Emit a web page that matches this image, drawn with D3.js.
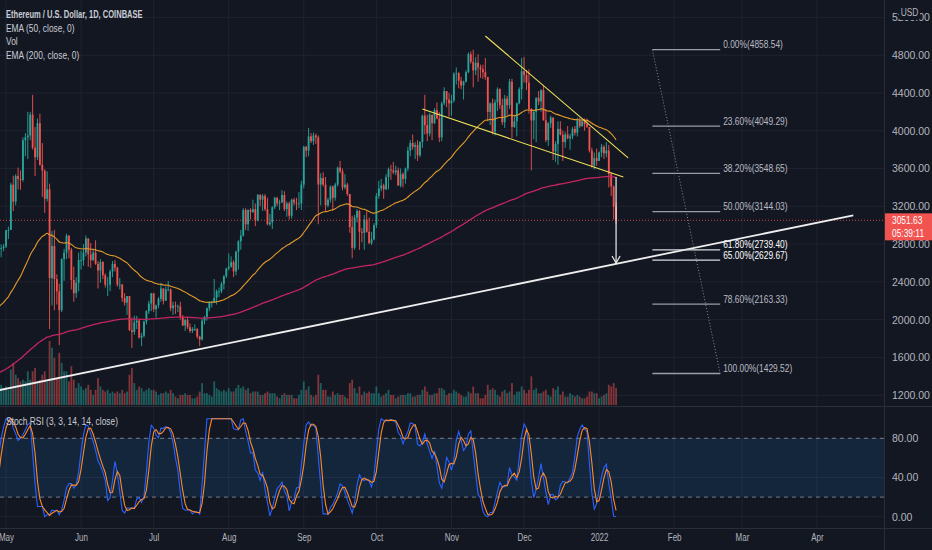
<!DOCTYPE html>
<html>
<head>
<meta charset="utf-8">
<script src="https://cdn.jsdelivr.net/npm/d3@7"></script>
<style>
	html, body { margin: 0; padding: 0; background: #131722; }
	svg { display: block; font-family: "Liberation Sans", Arial, sans-serif; }
</style>
</head>
<body>
<svg id="svgChart" width="932" height="550"></svg>
<script>
// closes before the first visible bar, only used to warm up the Stoch RSI (15 Mar - 27 Apr 2021)
const warmupClose = [
	1790, 1806, 1823, 1780, 1810, 1806, 1782, 1680, 1670, 1585, 1588, 1700, 1715, 1691, 1818, 1846, 1919,
	1969, 2136, 2029, 2087, 2111, 2114, 1964, 2082, 2071, 2137, 2156, 2139, 2301, 2433, 2516, 2424, 2357,
	2234, 2164, 2328, 2361, 2402, 2364, 2210, 2315, 2535, 2662
];

// daily bars from 28 Apr 2021 to 8 Jan 2022 (open = previous close)
const firstDay = "2021-04-28";
const closes = [
	2750, 2757, 2773,
	2945, 2950, 3430, 3250, 3520, 3490, 3480, 3900, 3930, 3950, 4170, 3820, 3720, 4080, 3640, 3580, 3280, 3380, 2440, 2780,
	2430, 2300, 2100, 2640, 2710, 2890, 2740, 2420, 2280, 2390, 2630,
	2630, 2710, 2860, 2690, 2630, 2710, 2590, 2520, 2610, 2470, 2370, 2370, 2510, 2590, 2550, 2370, 2370, 2230, 2180, 2250,
	1890, 1870, 1970, 1990, 1810, 1830, 1980, 2090, 2170, 2280,
	2110, 2150, 2220, 2330, 2200, 2320, 2320, 2120, 2150, 2140, 2140, 2030, 1940, 1995, 1920, 1880, 1900, 1900, 1820, 1790,
	1990, 2030, 2120, 2190, 2190, 2230, 2300, 2300, 2380, 2460, 2540,
	2560, 2610, 2510, 2720, 2830, 2890, 3160, 3010, 3160, 3140, 3170, 3050, 3320, 3270, 3310, 3170, 3010, 3030, 3190, 3290,
	3230, 3240, 3320, 3170, 3230, 3100, 3270, 3240, 3230, 3230, 3430,
	3830, 3790, 3940, 3890, 3950, 3930, 3430, 3500, 3430, 3210, 3270, 3410, 3290, 3430, 3610, 3570, 3400, 3430, 3330, 2980,
	2760, 3080, 3150, 2930, 2920, 3060, 2930, 2810, 2850, 3000,
	3310, 3390, 3420, 3380, 3510, 3590, 3580, 3560, 3580, 3420, 3540, 3490, 3600, 3790, 3870, 3830, 3850, 3740, 3880, 4160,
	4060, 3970, 4170, 4080, 4220, 4130, 3930, 4290, 4420, 4330, 4290,
	4320, 4600, 4610, 4530, 4480, 4520, 4620, 4810, 4730, 4640, 4720, 4670, 4650, 4620, 4570, 4200, 4290, 3990, 4300, 4440,
	4270, 4090, 4340, 4270, 4520, 4040, 4100, 4290, 4440, 4630,
	4590, 4510, 4230, 4110, 4200, 4350, 4310, 4430, 4110, 3900, 4080, 4140, 3780, 3860, 4020, 3960, 3880, 3960, 3920, 3940,
	4020, 3980, 4110, 4050, 4100, 4070, 4040, 3790, 3630, 3710, 3680,
	3770, 3830, 3760, 3790, 3540, 3410, 3195, 3051.63
];
const highs = [
	2760, 2795, 2800,
	2950, 2985, 3450, 3525, 3540, 3610, 3580, 3930, 3975, 4200, 4200, 4380, 4040, 4130, 4180, 3870, 3590, 3570, 3440, 2940,
	2950, 2480, 2380, 2650, 2750, 2910, 2890, 2760, 2560, 2450, 2710,
	2730, 2800, 2890, 2860, 2810, 2750, 2840, 2620, 2640, 2620, 2490, 2450, 2530, 2620, 2630, 2560, 2440, 2380, 2280, 2250,
	2250, 2020, 2040, 2040, 2010, 1860, 1990, 2100, 2200, 2280,
	2280, 2160, 2240, 2390, 2330, 2350, 2410, 2330, 2190, 2190, 2160, 2190, 2050, 2010, 2020, 1960, 1920, 1950, 1910, 1830,
	2010, 2040, 2130, 2190, 2200, 2430, 2320, 2340, 2400, 2470, 2550,
	2700, 2670, 2630, 2730, 2840, 2950, 3180, 3180, 3170, 3180, 3270, 3230, 3330, 3330, 3330, 3330, 3290, 3120, 3200, 3300,
	3300, 3270, 3370, 3360, 3250, 3250, 3280, 3290, 3290, 3350, 3470,
	3840, 3840, 4030, 3975, 3980, 3970, 3950, 3550, 3560, 3510, 3290, 3420, 3420, 3450, 3620, 3680, 3600, 3540, 3450, 3330,
	3100, 3110, 3170, 3160, 2970, 3110, 3150, 3080, 2930, 3020,
	3340, 3470, 3490, 3440, 3540, 3610, 3640, 3670, 3630, 3610, 3600, 3560, 3610, 3830, 3900, 3960, 3880, 3900, 3890, 4170,
	4380, 4170, 4190, 4170, 4240, 4300, 4200, 4310, 4460, 4420, 4400,
	4380, 4620, 4670, 4620, 4570, 4530, 4640, 4830, 4840, 4858, 4780, 4810, 4700, 4700, 4770, 4570, 4300, 4340, 4330, 4460,
	4450, 4340, 4380, 4370, 4550, 4550, 4170, 4300, 4460, 4770,
	4780, 4640, 4650, 4240, 4220, 4350, 4420, 4440, 4480, 4230, 4090, 4160, 4140, 3890, 4100, 4100, 4000, 3990, 4050, 3970,
	4040, 4050, 4140, 4140, 4120, 4130, 4130, 4040, 3820, 3770, 3810,
	3780, 3860, 3850, 3880, 3850, 3560, 3420, 3240
];
const lows = [
	2580, 2660, 2725,
	2760, 2855, 2950, 3150, 3210, 3380, 3375, 3460, 3730, 3700, 3900, 3800, 3520, 3690, 3630, 3300, 3130, 3250, 1900, 2150,
	2100, 2160, 1730, 2080, 2410, 2640, 2650, 2320, 2190, 2230, 2300,
	2530, 2570, 2670, 2560, 2550, 2620, 2580, 2330, 2390, 2430, 2340, 2250, 2300, 2450, 2510, 2350, 2320, 2190, 2150, 2050,
	1880, 1700, 1840, 1900, 1800, 1720, 1810, 1950, 2060, 2090,
	2080, 2020, 2120, 2190, 2160, 2200, 2300, 2090, 2050, 2060, 2080, 2000, 1930, 1880, 1900, 1860, 1860, 1880, 1800, 1718,
	1780, 1950, 1990, 2090, 2130, 2180, 2160, 2240, 2280, 2320, 2440,
	2520, 2550, 2450, 2470, 2530, 2740, 2880, 2950, 2940, 3060, 3130, 2990, 3040, 3200, 3150, 3150, 3000, 2990, 2960, 3170,
	3200, 3160, 3240, 3150, 3090, 3060, 3070, 3210, 3160, 3180, 3160,
	3390, 3720, 3730, 3870, 3850, 3860, 3010, 3210, 3410, 3140, 3190, 3240, 3150, 3260, 3410, 3550, 3370, 3380, 3310, 2920,
	2650, 2740, 3030, 2740, 2820, 2740, 2920, 2800, 2790, 2840,
	2970, 3280, 3360, 3280, 3370, 3380, 3480, 3540, 3530, 3420, 3400, 3400, 3440, 3570, 3730, 3800, 3700, 3680, 3720, 3820,
	3960, 3890, 3940, 3900, 4070, 4120, 3880, 3890, 4270, 4250, 4150,
	4160, 4300, 4490, 4450, 4440, 4330, 4510, 4610, 4710, 4460, 4590, 4520, 4560, 4550, 4540, 4100, 4060, 3960, 3950, 4210,
	4230, 4060, 4030, 4160, 4230, 3920, 4030, 3940, 4280, 4330,
	4510, 4430, 4180, 3580, 3910, 3880, 4270, 4200, 4110, 3880, 3840, 4030, 3690, 3670, 3640, 3950, 3680, 3820, 3910, 3800,
	3910, 3950, 3940, 4030, 4040, 4000, 4030, 3770, 3610, 3590, 3630,
	3680, 3720, 3700, 3720, 3400, 3310, 3060, 3010
];
// volume, thousands of ETH
const volumes = [
	700, 600, 500,
	550, 450, 1050, 1250, 900, 800, 700, 750, 700, 1000, 750, 1000, 1100, 700, 750, 900, 1000, 700, 1900, 1700,
	1400, 800, 1550, 1250, 1000, 1000, 700, 1150, 750, 500, 650,
	550, 450, 500, 600, 450, 300, 450, 800, 550, 450, 400, 450, 350, 400, 350, 400, 350, 450, 350, 400,
	900, 1100, 650, 450, 550, 500, 400, 450, 500, 450,
	450, 400, 300, 350, 350, 400, 350, 450, 350, 250, 200, 300, 300, 350, 300, 300, 200, 200, 250, 400,
	650, 350, 350, 300, 250, 700, 500, 450, 400, 450, 400,
	500, 400, 400, 500, 600, 500, 550, 450, 500, 350, 400, 400, 400, 300, 300, 350, 400, 350, 350, 350,
	250, 200, 300, 350, 300, 300, 300, 200, 200, 300, 450,
	700, 450, 550, 300, 250, 300, 900, 650, 450, 450, 250, 250, 400, 300, 350, 300, 300, 250, 200, 650,
	750, 500, 350, 550, 300, 400, 350, 400, 350, 350,
	550, 350, 250, 300, 350, 450, 300, 300, 200, 250, 300, 300, 300, 350, 350, 250, 250, 300, 300, 450,
	550, 400, 300, 300, 350, 350, 500, 500, 450, 300, 350,
	350, 450, 400, 350, 300, 250, 250, 400, 350, 550, 350, 350, 200, 200, 300, 600, 450, 500, 450, 300,
	250, 400, 450, 350, 400, 650, 300, 400, 400, 550,
	450, 350, 450, 850, 450, 500, 350, 350, 400, 450, 300, 250, 500, 450, 550, 300, 400, 250, 250, 350,
	300, 250, 300, 250, 200, 200, 250, 400, 400, 350, 350,
	200, 250, 300, 350, 600, 550, 650, 500
];

// EMA values on the first visible bar
const ema50Start = 2135;
const ema200Start = 1437;

const monthDates = ["2021-05-01", "2021-06-01", "2021-07-01", "2021-08-01", "2021-09-01", "2021-10-01",
	"2021-11-01", "2021-12-01", "2022-01-01", "2022-02-01", "2022-03-01", "2022-04-01"];
const monthLabels = ["May", "Jun", "Jul", "Aug", "Sep", "Oct", "Nov", "Dec", "2022", "Feb", "Mar", "Apr"];
const priceTicks = [1200, 1600, 2000, 2400, 2800, 3200, 3600, 4000, 4400, 4800, 5200];
const stochTicks = [0, 40, 80];
const stochBand = [20, 80];

const fibRatios = ["0.00%", "23.60%", "38.20%", "50.00%", "61.80%", "65.00%", "78.60%", "100.00%"];
const fibPrices = [4858.54, 4049.29, 3548.65, 3144.03, 2739.40, 2629.67, 2163.33, 1429.52];
const fibDates = ["2022-01-23", "2022-02-20"];

// drawings: [date, price]
const wedgeUpper = [["2021-11-15", 5003], ["2022-01-13", 3712]];
const wedgeLower = [["2021-10-20", 4230], ["2022-01-11", 3510]];
const supportLine = [["2021-04-28", 1252], ["2022-04-16", 3105]];
const targetArrow = [["2022-01-08", 3510], ["2022-01-08", 2600]];

const lastPrice = 3051.63;
const countdown = "05:39:11";
const legendLines = ["Ethereum / U.S. Dollar, 1D, COINBASE", "EMA (50, close, 0)", "Vol", "EMA (200, close, 0)"];
const stochTitle = "Stoch RSI (3, 3, 14, 14, close)";

const ctx = {
	width: 932, height: 550,
	plotRight: 884,
	mainBottom: 406,
	stochTop: 407, stochBottom: 528,
	squeeze: 0.8, // the screenshot's UI font is narrower than Liberation Sans
	bg: "#131722", grid: "#1f2330", text: "#b2b5be",
	up: "#26a69a", down: "#ef5350"
};

const parseDay = d3.utcParse("%Y-%m-%d");

function sma(values, len) {
	return values.map((v, i) => {
		if (i < len - 1) return null;
		const win = values.slice(i - len + 1, i + 1);
		if (win.some((w) => w === null)) return null;
		return d3.mean(win);
	});
}

function rma(values, len) {
	const out = [];
	for (let i = 0; i < values.length; i++) {
		if (i < len - 1) out.push(null);
		else if (i === len - 1) out.push(d3.mean(values.slice(0, len)));
		else out.push((out[i - 1] * (len - 1) + values[i]) / len);
	}
	return out;
}

function stochRsi(src) {
	let gains = [], losses = [];
	for (let i = 1; i < src.length; i++) {
		let ch = src[i] - src[i - 1];
		gains.push(Math.max(ch, 0));
		losses.push(Math.max(-ch, 0));
	}
	let ag = rma(gains, 14), al = rma(losses, 14);
	let rsi = [null].concat(ag.map((g, i) => (g === null ? null : al[i] === 0 ? 100 : 100 - 100 / (1 + g / al[i]))));
	let raw = rsi.map((r, i) => {
		if (i < 13) return null;
		let win = rsi.slice(i - 13, i + 1);
		if (win.some((w) => w === null)) return null;
		let lo = d3.min(win), hi = d3.max(win);
		return hi === lo ? 0 : ((r - lo) / (hi - lo)) * 100;
	});
	let k = sma(raw, 3);
	let d = sma(k, 3);
	return { k: k, d: d };
}

function ema(values, len, start) {
	let alpha = 2 / (len + 1);
	let out = [start];
	for (let i = 1; i < values.length; i++) out.push(alpha * values[i] + (1 - alpha) * out[i - 1]);
	return out;
}

// text drawn a little condensed, anchored at (x, y)
function narrowText(parent, x, y, txt, size, squeeze) {
	return parent.append("text")
		.attr("transform", `translate(${x},${y}) scale(${squeeze || ctx.squeeze},1)`)
		.attr("font-size", size)
		.text(txt);
}

function drawChart() {
	let svg = d3.select("#svgChart");
	let start = parseDay(firstDay);
	let bars = closes.map((c, i) => ({
		date: d3.utcDay.offset(start, i),
		open: i === 0 ? warmupClose[warmupClose.length - 1] : closes[i - 1],
		high: highs[i], low: lows[i], close: c, vol: volumes[i]
	}));

	let x = d3.scaleUtc()
		.domain([parseDay("2021-05-01"), parseDay("2022-04-01")])
		.range([6, 817]);
	let y = d3.scaleLinear().domain([1200, 4800]).range([395.2, 55.2]);
	let yVol = d3.scaleLinear().domain([0, d3.max(volumes)]).range([405, 341]);
	let yStoch = d3.scaleLinear().domain([0, 80]).range([516.7, 438.3]);
	let step = x(d3.utcDay.offset(start, 1)) - x(start);
	let bodyW = step * 0.75;

	svg.append("rect").attr("width", ctx.width).attr("height", ctx.height).attr("fill", ctx.bg);

	let defs = svg.append("defs");
	defs.append("clipPath").attr("id", "clipMain")
		.append("rect").attr("x", 0).attr("y", 0).attr("width", ctx.plotRight).attr("height", ctx.mainBottom);
	defs.append("clipPath").attr("id", "clipStoch")
		.append("rect").attr("x", 0).attr("y", ctx.stochTop).attr("width", ctx.plotRight)
		.attr("height", ctx.stochBottom - ctx.stochTop);

	// grid
	let grid = svg.append("g").attr("stroke", ctx.grid).attr("stroke-width", 1);
	grid.selectAll(".vgrid").data(monthDates).join("line")
		.attr("x1", (d) => x(parseDay(d))).attr("x2", (d) => x(parseDay(d)))
		.attr("y1", 0).attr("y2", ctx.stochBottom);
	grid.selectAll(".hgrid").data(priceTicks).join("line")
		.attr("x1", 0).attr("x2", ctx.plotRight)
		.attr("y1", (d) => y(d)).attr("y2", (d) => y(d));
	grid.selectAll(".sgrid").data(stochTicks).join("line")
		.attr("x1", 0).attr("x2", ctx.plotRight)
		.attr("y1", (d) => yStoch(d)).attr("y2", (d) => yStoch(d));

	let main = svg.append("g").attr("clip-path", "url(#clipMain)");

	// volume
	main.append("g").selectAll("rect").data(bars).join("rect")
		.attr("x", (d) => x(d.date) - bodyW / 2)
		.attr("width", bodyW)
		.attr("y", (d) => yVol(d.vol))
		.attr("height", (d) => yVol(0) - yVol(d.vol))
		.attr("fill", (d) => (d.close >= d.open ? ctx.up : ctx.down))
		.attr("opacity", 0.5);

	// candles
	let candles = main.append("g").selectAll("g").data(bars).join("g");
	candles.append("line")
		.attr("x1", (d) => x(d.date)).attr("x2", (d) => x(d.date))
		.attr("y1", (d) => y(d.high)).attr("y2", (d) => y(d.low))
		.attr("stroke", (d) => (d.close >= d.open ? ctx.up : ctx.down))
		.attr("stroke-width", 0.9);
	candles.append("rect")
		.attr("x", (d) => x(d.date) - bodyW / 2)
		.attr("width", bodyW)
		.attr("y", (d) => y(Math.max(d.open, d.close)))
		.attr("height", (d) => Math.max(0.8, Math.abs(y(d.open) - y(d.close))))
		.attr("fill", (d) => (d.close >= d.open ? ctx.up : ctx.down));

	// moving averages
	let ema50 = ema(closes, 50, ema50Start);
	let ema200 = ema(closes, 200, ema200Start);
	let maLine = d3.line().x((d, i) => x(bars[i].date)).y((d) => y(d)).curve(d3.curveMonotoneX);
	main.append("path").attr("d", maLine(ema200)).attr("fill", "none")
		.attr("stroke", "#c2255f").attr("stroke-width", 1.3);
	main.append("path").attr("d", maLine(ema50)).attr("fill", "none")
		.attr("stroke", "#e39a2b").attr("stroke-width", 1.1);

	// last price line
	main.append("line")
		.attr("x1", 0).attr("x2", ctx.plotRight)
		.attr("y1", y(lastPrice)).attr("y2", y(lastPrice))
		.attr("stroke", ctx.down).attr("stroke-dasharray", "1,2").attr("opacity", 0.8);

	// drawings
	let pt = (p) => [x(parseDay(p[0])), y(p[1])];
	let seg = d3.line();
	main.append("path").attr("d", seg(wedgeUpper.map(pt))).attr("stroke", "#f2e35a").attr("stroke-width", 1.1);
	main.append("path").attr("d", seg(wedgeLower.map(pt))).attr("stroke", "#f2e35a").attr("stroke-width", 1.1);
	main.append("path").attr("d", seg(supportLine.map(pt))).attr("stroke", "#eeeeee").attr("stroke-width", 1.8);

	let a0 = pt(targetArrow[0]), a1 = pt(targetArrow[1]);
	main.append("path").attr("d", seg([a0, a1])).attr("stroke", "#eeeeee").attr("stroke-width", 1.2);
	main.append("path")
		.attr("d", seg([[a1[0] - 4, a1[1] - 7], a1, [a1[0] + 4, a1[1] - 7]]))
		.attr("fill", "none").attr("stroke", "#eeeeee").attr("stroke-width", 1.2);

	// fibonacci retracement
	let fx0 = x(parseDay(fibDates[0])), fx1 = x(parseDay(fibDates[1]));
	let fib = main.append("g");
	fib.append("line")
		.attr("x1", fx0).attr("y1", y(fibPrices[0]))
		.attr("x2", fx1).attr("y2", y(fibPrices[fibPrices.length - 1]))
		.attr("stroke", "#8a8d96").attr("stroke-dasharray", "1,2");
	fib.selectAll(".lvl").data(fibPrices).join("line")
		.attr("x1", fx0).attr("x2", fx1)
		.attr("y1", (d) => y(d)).attr("y2", (d) => y(d))
		.attr("stroke", (d, i) => (i === 4 || i === 5 ? "#d8dae0" : "#9a9da6"))
		.attr("stroke-width", 1.3);
	fibPrices.forEach((p, i) => {
		narrowText(fib, fx1 + 3, y(p) - 1.5, `${fibRatios[i]}(${p.toFixed(2)})`, 10.5)
			.attr("fill", i === 4 || i === 5 ? "#ffffff" : "#b8bbc3");
	});

	// stoch rsi pane
	let st = stochRsi(warmupClose.concat(closes));
	let kVals = st.k.slice(warmupClose.length);
	let dVals = st.d.slice(warmupClose.length);
	let stoch = svg.append("g").attr("clip-path", "url(#clipStoch)");
	stoch.append("rect")
		.attr("x", 0).attr("width", ctx.plotRight)
		.attr("y", yStoch(stochBand[1]))
		.attr("height", yStoch(stochBand[0]) - yStoch(stochBand[1]))
		.attr("fill", "rgba(33,150,243,0.12)");
	stoch.selectAll(".band").data(stochBand).join("line")
		.attr("x1", 0).attr("x2", ctx.plotRight)
		.attr("y1", (d) => yStoch(d)).attr("y2", (d) => yStoch(d))
		.attr("stroke", "#787b86").attr("stroke-dasharray", "4,4");
	let stLine = d3.line().defined((d) => d !== null).x((d, i) => x(bars[i].date)).y((d) => yStoch(d));
	stoch.append("path").attr("d", stLine(kVals)).attr("fill", "none").attr("stroke", "#2962ff").attr("stroke-width", 1.1);
	stoch.append("path").attr("d", stLine(dVals)).attr("fill", "none").attr("stroke", "#ff8a2b").attr("stroke-width", 1.1);

	// pane borders
	let border = svg.append("g").attr("stroke", "#2a2e39").attr("stroke-width", 1);
	border.append("line").attr("x1", ctx.plotRight + 0.5).attr("x2", ctx.plotRight + 0.5).attr("y1", 0).attr("y2", ctx.height);
	border.append("line").attr("x1", 0).attr("x2", ctx.width).attr("y1", ctx.mainBottom + 0.5).attr("y2", ctx.mainBottom + 0.5);
	border.append("line").attr("x1", 0).attr("x2", ctx.width).attr("y1", ctx.stochBottom + 0.5).attr("y2", ctx.stochBottom + 0.5);

	// axes
	let priceAxis = svg.append("g")
		.attr("transform", `translate(${ctx.plotRight},0)`)
		.call(d3.axisRight(y).tickValues(priceTicks).tickFormat(d3.format(".2f")).tickSize(0).tickPadding(8));
	let stochAxis = svg.append("g")
		.attr("transform", `translate(${ctx.plotRight},0)`)
		.call(d3.axisRight(yStoch).tickValues(stochTicks).tickFormat(d3.format(".2f")).tickSize(0).tickPadding(8));
	let timeAxis = svg.append("g")
		.attr("transform", `translate(0,${ctx.stochBottom})`)
		.call(d3.axisBottom(x).tickValues(monthDates.map(parseDay)).tickFormat((d, i) => monthLabels[i]).tickSize(0).tickPadding(6));
	[priceAxis, stochAxis, timeAxis].forEach((g) => g.select(".domain").remove());
	svg.selectAll(".tick text").attr("fill", ctx.text).attr("font-family", "'Liberation Sans', sans-serif");
	priceAxis.selectAll("text").attr("font-size", 10.5);
	stochAxis.selectAll("text").attr("font-size", 10.5);
	timeAxis.selectAll("text").attr("font-size", 10).attr("transform", `scale(${ctx.squeeze},1)`);

	// USD badge over the top label
	svg.append("rect").attr("x", 899).attr("y", 5).attr("width", 21).attr("height", 15).attr("rx", 2).attr("fill", ctx.bg);
	narrowText(svg, 909.5, 16, "USD", 10.5).attr("text-anchor", "middle").attr("fill", ctx.text);

	// last price tag
	let ty = y(lastPrice);
	svg.append("rect").attr("x", ctx.plotRight + 1).attr("y", ty - 7).attr("width", ctx.width - ctx.plotRight - 1)
		.attr("height", 27).attr("fill", "#f05350");
	narrowText(svg, 892, ty + 4, lastPrice.toFixed(2), 10.5).attr("fill", "#ffffff");
	narrowText(svg, 892, ty + 17, countdown, 10.5).attr("fill", "#ffffff");

	// legends
	let legend = svg.append("g").attr("fill", "#c9ccd4");
	legendLines.forEach((t, i) => {
		if (i === 0) narrowText(legend, 6, 18, t, 10.5, 0.72).attr("font-weight", "bold");
		else narrowText(legend, 6, 18 + i * 13.5, t, 10.5);
	});
	narrowText(svg, 6, 425, stochTitle, 10.5).attr("fill", "#c9ccd4");
}

drawChart();
</script>
</body>
</html>
